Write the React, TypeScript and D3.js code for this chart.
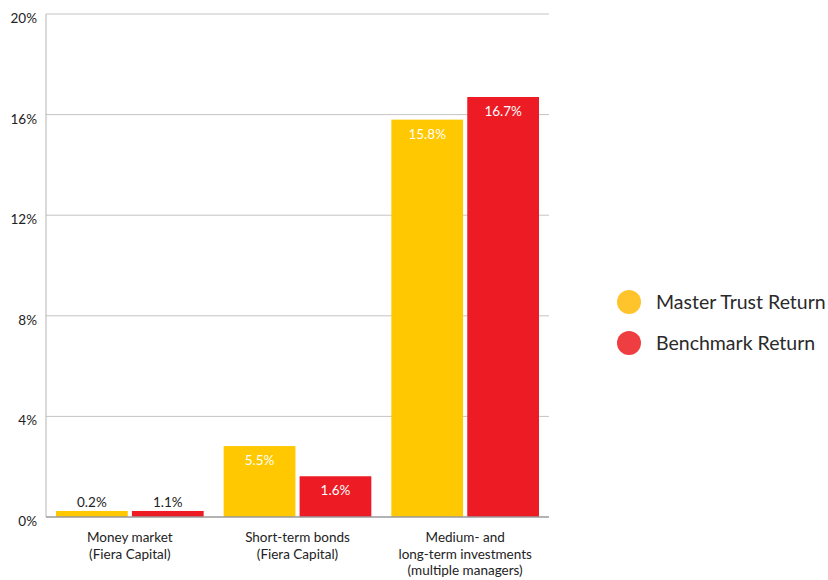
import React from "react";
import * as d3 from "d3";

const categories = [
  ["Money market", "(Fiera Capital)"],
  ["Short-term bonds", "(Fiera Capital)"],
  ["Medium- and", "long-term investments", "(multiple managers)"],
];
const seriesNames = ["Master Trust Return", "Benchmark Return"];
// bar heights as drawn in the picture (percent)
const masterValues = [0.24, 2.82, 15.8];
const benchmarkValues = [0.24, 1.62, 16.7];
// value labels as printed
const masterLabels = ["0.2%", "5.5%", "15.8%"];
const benchmarkLabels = ["1.1%", "1.6%", "16.7%"];
const yTicks = [0, 4, 8, 12, 16, 20];

const COLORS = ["#FFC800", "#ED1C24"];
const LEGEND_COLORS = ["#FFC42C", "#EE3E42"];
const FONT = "Lato, 'Open Sans', sans-serif";

export default function App() {
  const W = 828, H = 580;
  const left = 46, right = 549, top = 14, bottom = 517;
  const x0 = d3.scaleBand<number>().domain([0, 1, 2]).range([left, right]).paddingInner(0).paddingOuter(0);
  const x1 = d3.scaleBand<number>().domain([0, 1]).range([10, x0.bandwidth() - 10]).paddingInner(0.055);
  const y = d3.scaleLinear().domain([0, 20]).range([bottom, top]);
  const series = [
    { values: masterValues, labels: masterLabels },
    { values: benchmarkValues, labels: benchmarkLabels },
  ];

  return (
    <svg width={W} height={H} style={{ position: "absolute", left: 0, top: 0 }} fontFamily={FONT}>
      <rect width={W} height={H} fill="#fff" />
      {yTicks.map((t) => (
        <g key={t}>
          {t > 0 && <line x1={left} x2={right} y1={y(t)} y2={y(t)} stroke="#c4c4c4" strokeWidth={1} />}
          <text x={37} y={y(t) + 9} textAnchor="end" fontSize={13.5} fill="#222">
            {t}%
          </text>
        </g>
      ))}
      {series.map((s, si) =>
        s.values.map((v, ci) => {
          const bx = (x0(ci) as number) + (x1(si) as number);
          const bw = x1.bandwidth();
          const by = y(v);
          const h = bottom - by;
          const inside = h > 25;
          return (
            <g key={`${si}-${ci}`}>
              <rect x={bx} y={by} width={bw} height={h} fill={COLORS[si]} />
              <text
                x={bx + bw / 2}
                y={inside ? by + 19 : by - 4}
                textAnchor="middle"
                fontSize={13.5}
                fill={inside ? "#fff" : "#222"}
              >
                {s.labels[ci]}
              </text>
            </g>
          );
        })
      )}
      <line x1={left} x2={left} y1={top} y2={bottom} stroke="#b5b5b5" strokeWidth={1} />
      <line x1={left} x2={right} y1={bottom} y2={bottom} stroke="#9a9a9a" strokeWidth={1.5} />
      {categories.map((lines, ci) => (
        <text key={ci} textAnchor="middle" fontSize={13.5} fill="#222">
          {lines.map((l, li) => (
            <tspan key={li} x={(x0(ci) as number) + x0.bandwidth() / 2} y={542 + li * 16.5}>
              {l}
            </tspan>
          ))}
        </text>
      ))}
      {seriesNames.map((n, i) => (
        <g key={n}>
          <circle cx={629} cy={302 + i * 41} r={12} fill={LEGEND_COLORS[i]} />
          <text x={656} y={302 + i * 41 + 7} fontSize={19.5} fill="#2a2a2a">
            {n}
          </text>
        </g>
      ))}
    </svg>
  );
}
